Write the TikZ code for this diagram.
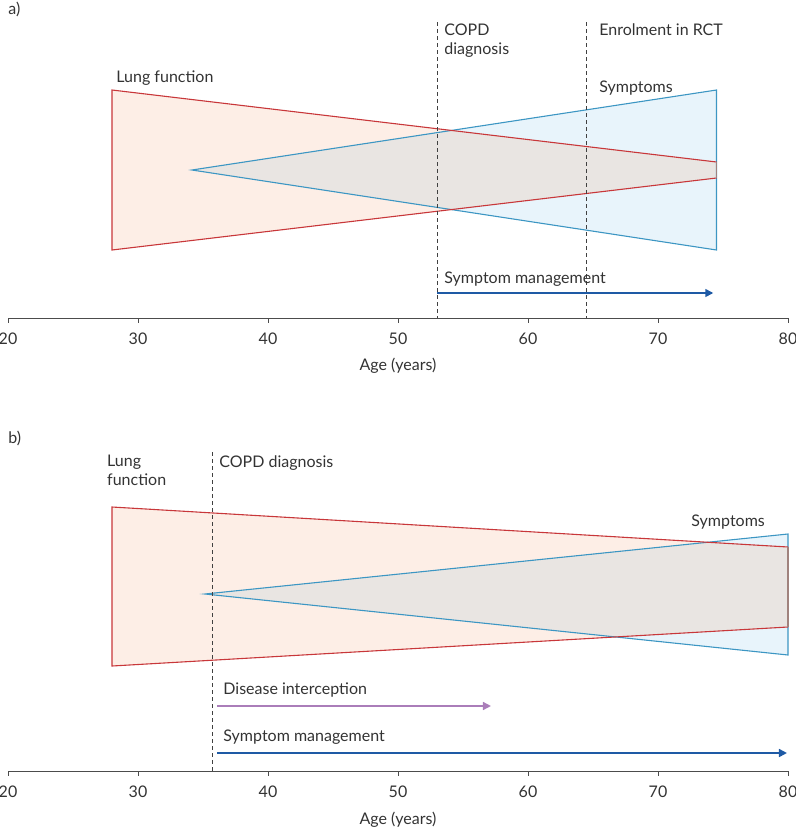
\documentclass[tikz,border=0pt]{standalone}
\usepackage{fontspec}
\setmainfont{Lato}
\usetikzlibrary{arrows.meta,positioning}
\definecolor{lungred}{RGB}{200,55,58}
\definecolor{lungfill}{RGB}{253,238,230}
\definecolor{symblue}{RGB}{60,150,195}
\definecolor{symfill}{RGB}{232,244,251}
\definecolor{bothfill}{RGB}{233,229,226}
\definecolor{bothedge}{RGB}{160,130,125}
\definecolor{mgmtblue}{RGB}{30,90,165}
\definecolor{icptpurple}{RGB}{170,125,185}
\definecolor{txtgrey}{RGB}{51,51,51}

\begin{document}
\begin{tikzpicture}[x=6.5pt,y=-0.5pt,
  lbl/.style={anchor=base west,inner sep=0pt,font=\fontsize{8}{9.5}\selectfont,text=txtgrey},
  two/.style={lbl,anchor=north west,align=left},
  tick/.style={lbl,anchor=base},
  axis/.style={draw=black!70,line width=0.5pt},
  guide/.style={draw=black!75,line width=0.5pt,dash pattern=on 2pt off 1.5pt},
  lung/.style={draw=lungred,line width=0.55pt,line join=miter},
  symp/.style={draw=symblue,line width=0.55pt,line join=miter},
  arr/.style={-{Triangle[length=4pt,width=4pt]},line width=0.8pt}]
\useasboundingbox (19.3846,0) rectangle (80.6154,831);

% ---- panel a
\node[lbl] (pa) at (20,14) {a)};
\fill[lungfill] (28,90) -- (74.5,162) -- (74.5,178) -- (28,250) -- cycle;
\fill[symfill] (34.15,170) -- (74.5,90) -- (74.5,250) -- cycle;
\begin{scope}
\clip (28,90) -- (74.5,162) -- (74.5,178) -- (28,250) -- cycle;
\fill[bothfill] (34.15,170) -- (74.5,90) -- (74.5,250) -- cycle;
\end{scope}
\draw[symp] (34.15,170) -- (74.5,90) -- (74.5,250) -- cycle;
\draw[lung] (74.5,162) -- (28,90) -- (28,250) -- (74.5,178);
\draw[draw=bothedge,line width=0.55pt] (74.5,162) -- (74.5,178);

\coordinate (dxA0) at (53,22);   \coordinate (dxA1) at (53,318);
\coordinate (rctA0) at (64.5,22); \coordinate (rctA1) at (64.5,318);
\draw[guide] (dxA0) -- (dxA1);
\draw[guide] (rctA0) -- (rctA1);

\node[lbl] (lungA) at (28.31,82) {Lung function};
\node[two] (dxlabA) at (53.54,24) {COPD\\diagnosis};
\node[lbl] (rctlabA) at (65.46,35) {Enrolment in RCT};
\node[lbl] (sympA) at (65.46,92) {Symptoms};
\node[lbl] (mgmtlabA) at (53.54,283) {Symptom management};

\coordinate (mgmtA0) at (53,293); \coordinate (mgmtA1) at (74.25,293);
\draw[arr,mgmtblue] (mgmtA0) -- (mgmtA1);

\coordinate (axA0) at (20,318); \coordinate (axA1) at (80,318);
\draw[axis] (axA0) -- (axA1);
\foreach \a in {20,30,...,80} {
  \draw[axis] (\a,318) -- (\a,323);
  \node[tick] at (\a,344) {\a};
}
\node[tick] (ageA) at (50,370) {Age (years)};

% ---- panel b
\node[lbl] (pb) at (20,443) {b)};
\fill[lungfill] (28,507) -- (80,547) -- (80,627) -- (28,666) -- cycle;
\fill[symfill] (35.15,594) -- (80,534) -- (80,655) -- cycle;
\begin{scope}
\clip (28,507) -- (80,547) -- (80,627) -- (28,666) -- cycle;
\fill[bothfill] (35.15,594) -- (80,534) -- (80,655) -- cycle;
\end{scope}
\draw[symp] (35.15,594) -- (80,534) -- (80,655) -- cycle;
\draw[lung] (80,547) -- (28,507) -- (28,666) -- (80,627);
\draw[draw=bothedge,line width=0.55pt] (80,547) -- (80,627);

\coordinate (dxB0) at (35.7,452); \coordinate (dxB1) at (35.7,771);
\draw[guide] (dxB0) -- (dxB1);

\node[two] (lungB) at (27.6,455) {Lung\\function};
\node[lbl] (dxlabB) at (36.23,467) {COPD diagnosis};
\node[lbl] (sympB) at (72.54,526) {Symptoms};
\node[lbl] (icptlab) at (36.54,694) {Disease interception};
\node[lbl] (mgmtlabB) at (36.54,741) {Symptom management};

\coordinate (icpt0) at (36.08,706); \coordinate (icpt1) at (57.15,706);
\draw[arr,icptpurple] (icpt0) -- (icpt1);
\coordinate (mgmtB0) at (36.08,753); \coordinate (mgmtB1) at (79.92,753);
\draw[arr,mgmtblue] (mgmtB0) -- (mgmtB1);

\coordinate (axB0) at (20,771); \coordinate (axB1) at (80,771);
\draw[axis] (axB0) -- (axB1);
\foreach \a in {20,30,...,80} {
  \draw[axis] (\a,771) -- (\a,776);
  \node[tick] at (\a,797) {\a};
}
\node[tick] (ageB) at (50,824) {Age (years)};
\end{tikzpicture}
\end{document}
